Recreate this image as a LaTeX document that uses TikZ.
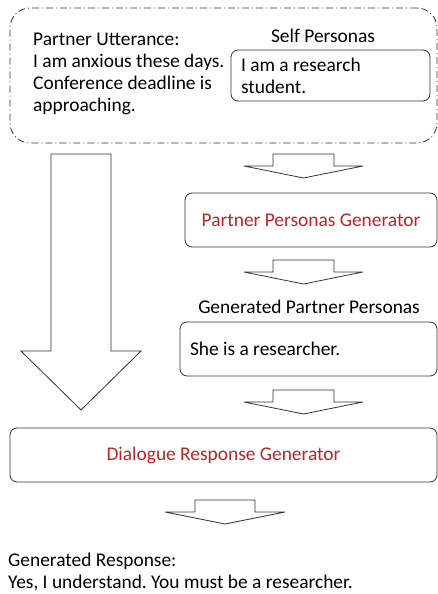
\documentclass[tikz,border=0pt]{standalone}
\usepackage{fontspec}
\setmainfont{Carlito}
\usepackage{tikz}
\usetikzlibrary{calc}
\frenchspacing
\definecolor{genred}{RGB}{190,35,35}
\definecolor{edgegray}{RGB}{50,50,50}
\newcommand{\blockdown}[6]{%
  \draw[blockarrow] (#1-#3,#2) -- (#1-#3,#2+#5) -- (#1-#4,#2+#5) -- (#1,#2+#6)
    -- (#1+#4,#2+#5) -- (#1+#3,#2+#5) -- (#1+#3,#2) -- cycle;}

\begin{document}
\begin{tikzpicture}[x=1pt, y=-1pt,
    every node/.style={font=\fontsize{19.4}{22}\selectfont, inner sep=0pt},
    roundbox/.style={draw=edgegray, line width=0.8pt, rounded corners=7pt},
    blockarrow/.style={draw=edgegray, line width=0.8pt, fill=white}]
      \useasboundingbox (0,0) rectangle (438,594);

      % inputs
      \node[draw=edgegray, line width=0.8pt, rounded corners=20pt,
        dash pattern=on 7pt off 3pt on 1pt off 3pt,
        minimum width=427pt, minimum height=135pt] (inputs) at (223.5,75.5) {};
      \node[anchor=north west, align=flush left] (utter) at (33,33)
        {Partner Utterance:\\I am anxious these days.\\Conference deadline is\\approaching.};
      \node[anchor=base] (selflabel) at (323,43) {Self Personas};
      \node[roundbox, minimum width=199pt, minimum height=51pt,
        text width=179pt, align=flush left] (selfbox) at (330.5,75.5)
        {I am a research\\student.};

      \blockdown{303.5}{154}{30.5}{59.5}{12}{24}

      % partner personas generator
      \node[roundbox, minimum width=252pt, minimum height=54pt, text=genred]
        (ppg) at (311,220) {Partner Personas Generator};

      \blockdown{303.5}{260}{30.5}{59.5}{12}{24}

      \node[anchor=base] (gpplabel) at (309,313) {Generated Partner Personas};
      \node[roundbox, minimum width=257pt, minimum height=54pt,
        text width=237pt, align=flush left] (gppbox) at (308.5,349)
        {She is a researcher.};

      \blockdown{303.5}{390}{30.5}{59.5}{12}{24}

      % big arrow from the inputs
      \blockdown{81}{154}{30}{60}{197}{256}

      % dialogue response generator
      \node[roundbox, minimum width=427pt, minimum height=54pt, text=genred]
        (drg) at (223.5,455) {Dialogue Response Generator};

      \blockdown{225}{500}{30}{60}{12}{24}

      \node[anchor=north west, align=flush left] (resp) at (8,553)
        {Generated Response:\\Yes, I understand. You must be a researcher.};
\end{tikzpicture}
\end{document}
